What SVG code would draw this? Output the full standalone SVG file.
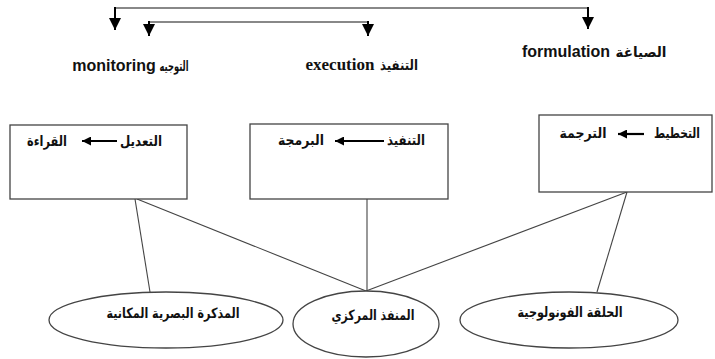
<svg xmlns="http://www.w3.org/2000/svg" width="715" height="359" viewBox="0 0 715 359">
<style>
.bg{fill:#fff}
.box{fill:#fff;stroke:#444;stroke-width:1.3}
.ell{fill:#fff;stroke:#444;stroke-width:1.3}
.con{stroke:#444;stroke-width:1.1;fill:none}
.hl{stroke:#888;stroke-width:2.2;fill:none}
.vl{stroke:#000;stroke-width:2;fill:none}
.ar{font-family:"DejaVu Sans",sans-serif;font-weight:bold;font-size:14px;fill:#111;text-anchor:middle}
.en{font-family:"Liberation Sans",Arial,sans-serif;font-weight:bold;font-size:16px;fill:#111;text-anchor:middle}
.tm{font-family:"Liberation Serif","Times New Roman",serif;font-weight:bold;font-size:17px;fill:#111;text-anchor:middle}
.ba{stroke:#000;stroke-width:2.2;fill:none}
</style>
<defs>
<marker id="hd" markerUnits="userSpaceOnUse" markerWidth="12" markerHeight="12" refX="10" refY="5" orient="auto" viewBox="0 0 10 10">
<path d="M0,0 L10,5 L0,10 Z" fill="#000"/>
</marker>
<marker id="hs" markerUnits="userSpaceOnUse" markerWidth="9" markerHeight="9" refX="10" refY="5" orient="auto" viewBox="0 0 10 10">
<path d="M0,0 L10,5 L0,10 Z" fill="#000"/>
</marker>
</defs>
<rect class="bg" x="0" y="0" width="715" height="359"/>
<g id="connectors">
<path class="hl" d="M115,8 H588"/>
<path class="hl" d="M149,22 H368"/>
<path class="vl" d="M115,7 V30" marker-end="url(#hd)"/>
<path class="vl" d="M588,7 V29" marker-end="url(#hd)"/>
<path class="vl" d="M149,21 V36" marker-end="url(#hd)"/>
<path class="vl" d="M368,21 V36" marker-end="url(#hd)"/>
<line class="con" x1="135" y1="199" x2="150" y2="292"/>
<line class="con" x1="137" y1="199" x2="366" y2="291"/>
<line class="con" x1="367" y1="199" x2="367" y2="291"/>
<line class="con" x1="627" y1="192" x2="366" y2="291"/>
<line class="con" x1="627" y1="192" x2="597" y2="292"/>
</g>
<g id="label-monitoring">
<text class="en" x="114" y="71">monitoring</text>
<text class="ar" x="174" y="71" textLength="29" lengthAdjust="spacingAndGlyphs">التوجيه</text>
</g>
<g id="label-execution">
<text class="tm" x="340" y="70">execution</text>
<text class="ar" x="399" y="70" textLength="38" lengthAdjust="spacingAndGlyphs">التنفيذ</text>
</g>
<g id="label-formulation">
<text class="en" x="566" y="57">formulation</text>
<text class="ar" x="641" y="57" textLength="51" lengthAdjust="spacingAndGlyphs">الصياغة</text>
</g>
<g id="box-left">
<rect class="box" x="10" y="125" width="177" height="74"/>
<text class="ar" x="141" y="146" textLength="42" lengthAdjust="spacingAndGlyphs">التعديل</text>
<line class="ba" x1="117" y1="141" x2="82" y2="141" marker-end="url(#hs)"/>
<text class="ar" x="47" y="146" textLength="40" lengthAdjust="spacingAndGlyphs">القراءة</text>
</g>
<g id="box-middle">
<rect class="box" x="250" y="124" width="198" height="75"/>
<text class="ar" x="406" y="145" textLength="38" lengthAdjust="spacingAndGlyphs">التنفيذ</text>
<line class="ba" x1="384" y1="141" x2="335" y2="141" marker-end="url(#hs)"/>
<text class="ar" x="301" y="145" textLength="46" lengthAdjust="spacingAndGlyphs">البرمجة</text>
</g>
<g id="box-right">
<rect class="box" x="539" y="115" width="173" height="77"/>
<text class="ar" x="677" y="138" textLength="46" lengthAdjust="spacingAndGlyphs">التخطيط</text>
<line class="ba" x1="644" y1="134" x2="618" y2="134" marker-end="url(#hs)"/>
<text class="ar" x="583" y="138" textLength="47" lengthAdjust="spacingAndGlyphs">الترجمة</text>
</g>
<g id="ellipse-visuospatial">
<ellipse class="ell" cx="166" cy="320" rx="117" ry="28"/>
<text class="ar" x="173" y="318" textLength="133" lengthAdjust="spacingAndGlyphs">المذكرة البصرية المكانية</text>
</g>
<g id="ellipse-central">
<ellipse class="ell" cx="366" cy="324" rx="73" ry="33"/>
<text class="ar" x="373" y="320" textLength="83" lengthAdjust="spacingAndGlyphs">المنفذ المركزي</text>
</g>
<g id="ellipse-phonological">
<ellipse class="ell" cx="569" cy="320" rx="109" ry="28"/>
<text class="ar" x="570" y="317" textLength="105" lengthAdjust="spacingAndGlyphs">الحلقة الفونولوجية</text>
</g>
</svg>
